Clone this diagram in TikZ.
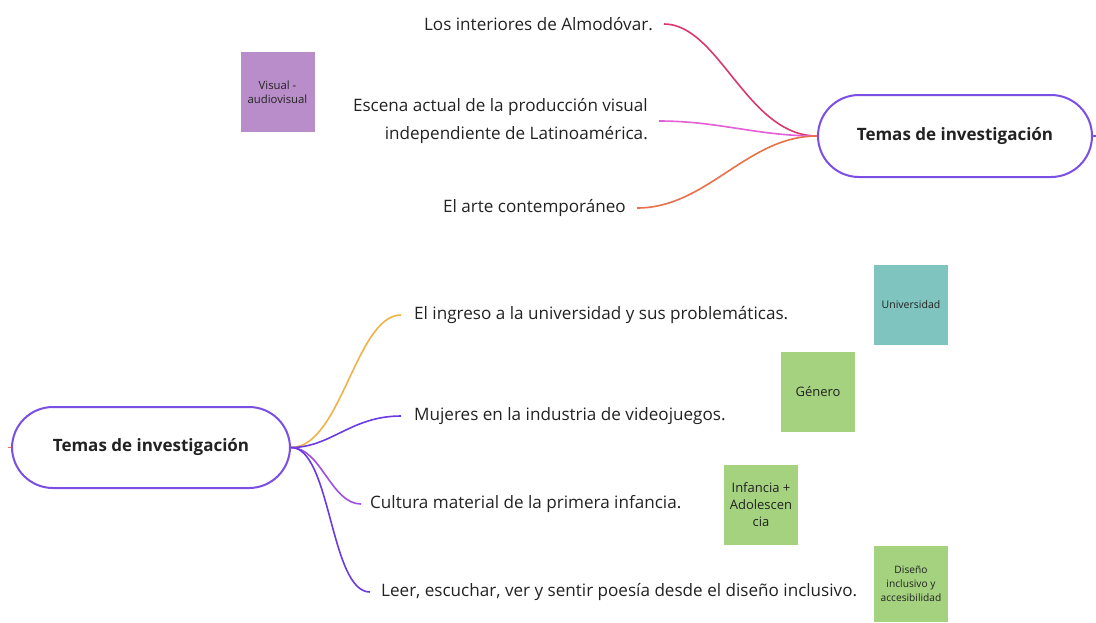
\documentclass[tikz,border=0pt]{standalone}
\usepackage{fontspec}
\setmainfont{Open Sans}
\definecolor{pill}{HTML}{7B4FE6}
\definecolor{cred}{HTML}{D9386E}
\definecolor{cpink}{HTML}{E35FD6}
\definecolor{corange}{HTML}{E8704A}
\definecolor{cyellow}{HTML}{EFB24A}
\definecolor{cpurple}{HTML}{6A3BE2}
\definecolor{cviolet}{HTML}{9D4FE2}
\definecolor{stpurple}{HTML}{B98DC9}
\definecolor{stteal}{HTML}{7FC4BF}
\definecolor{stgreen}{HTML}{A4D27F}
\definecolor{txt}{HTML}{222222}
\begin{document}
\begin{tikzpicture}[x=1pt,y=-1pt,
  pillnode/.style={draw=pill,line width=2pt,rounded corners=41pt,minimum width=274pt,minimum height=82pt,fill=white,font=\fontsize{17}{20}\selectfont\bfseries,text=txt},
  topic/.style={font=\fontsize{17.1}{28}\selectfont,text=txt,inner sep=0pt},
  conn/.style={line width=1.6pt},
  sticky/.style={minimum width=74pt,minimum height=80pt,inner sep=1pt,align=center,text=txt}]
\useasboundingbox (0,0) rectangle (1096,622);
% top mind map
\node[pillnode] (r1) at (955,136) {Temas de investigación};
\coordinate (r1out) at (1096,136);
\draw[conn,draw=pill] (r1.east) -- (r1out);
\node[topic,anchor=east] (a1) at (653,24) {Los interiores de Almodóvar.};
\node[topic,anchor=east,align=right] (a2) at (648,121) {Escena actual de la producción visual\\independiente de Latinoamérica.};
\node[topic,anchor=east] (a3) at (626,208) {El arte contemporáneo};
\draw[conn,cred] (r1.west) .. controls +(-70,0) and +(55,0) .. ([xshift=11pt]a1.east);
\draw[conn,cpink] (r1.west) .. controls +(-60,0) and +(60,0) .. ([xshift=11pt]a2.east);
\draw[conn,corange] (r1.west) .. controls +(-70,0) and +(70,0) .. ([xshift=11pt]a3.east);
\node[sticky,fill=stpurple,font=\fontsize{11.3}{14}\selectfont] (s0) at (277.5,92) {Visual -\\audiovisual};
% bottom mind map
\node[pillnode,minimum width=278pt,minimum height=81pt] (r2) at (151,447.5) {Temas de investigación};
\coordinate (r2in) at (8,447.5);
\draw[conn,corange] (r2in) -- (r2.west);
\node[topic,anchor=west] (b1) at (414,315) {El ingreso a la universidad y sus problemáticas.};
\node[topic,anchor=west] (b2) at (414,416) {Mujeres en la industria de videojuegos.};
\node[topic,anchor=west] (b3) at (370,504) {Cultura material de la primera infancia.};
\node[topic,anchor=west] (b4) at (381,592) {Leer, escuchar, ver y sentir poesía desde el diseño inclusivo.};
\draw[conn,cyellow] (r2.east) .. controls +(50,0) and +(-45,0) .. ([xshift=-13pt]b1.west);
\draw[conn,cpurple] (r2.east) .. controls +(40,0) and +(-50,0) .. ([xshift=-13pt]b2.west);
\draw[conn,cviolet] (r2.east) .. controls +(30,0) and +(-30,0) .. ([xshift=-9pt]b3.west);
\draw[conn,cpurple] (r2.east) .. controls +(40,0) and +(-40,0) .. ([xshift=-11pt]b4.west);
\node[sticky,fill=stteal,font=\fontsize{10.5}{13}\selectfont] (s1) at (911,305) {Universidad};
\node[sticky,fill=stgreen,font=\fontsize{13}{16}\selectfont] (s2) at (818,392) {Género};
\node[sticky,fill=stgreen,font=\fontsize{13}{17}\selectfont] (s3) at (761,505) {Infancia +\\Adolescen\\cia};
\node[sticky,fill=stgreen,font=\fontsize{10.2}{14}\selectfont,minimum height=76pt] (s4) at (911,584) {Diseño\\inclusivo y\\accesibilidad};
\end{tikzpicture}
\end{document}
